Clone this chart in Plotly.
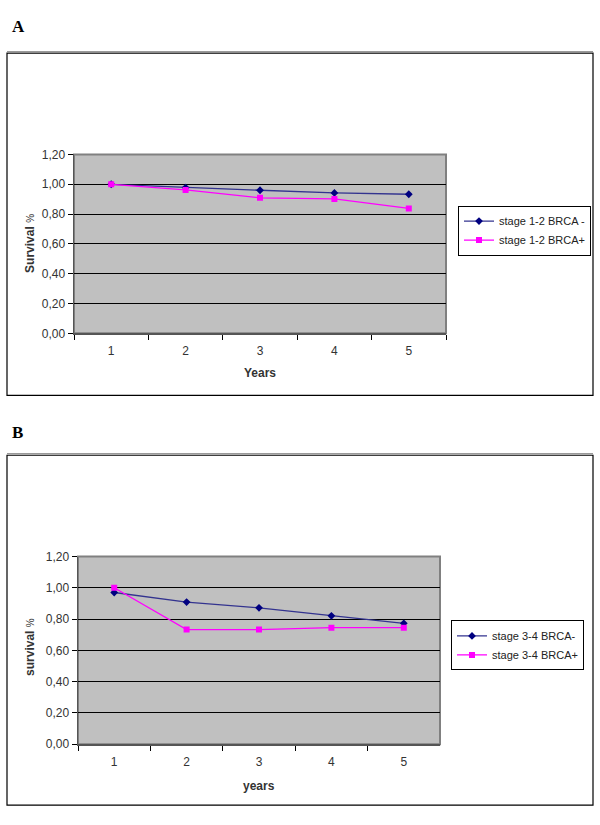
import plotly.graph_objects as go

years = ["1", "2", "3", "4", "5"]
a_neg = [1.00, 0.978, 0.96, 0.942, 0.933]
a_pos = [1.00, 0.962, 0.909, 0.902, 0.838]
b_neg = [0.97, 0.909, 0.872, 0.821, 0.773]
b_pos = [1.00, 0.733, 0.733, 0.745, 0.745]
a_names = ["stage 1-2 BRCA -", "stage 1-2 BRCA+"]
b_names = ["stage 3-4 BRCA-", "stage 3-4 BRCA+"]
yticks = [0, 0.2, 0.4, 0.6, 0.8, 1.0, 1.2]

W, H = 600, 825
def px(x): return x / W
def py(y): return 1 - y / H

NAVY = "#000080"
NAVY_LINE = "#33338F"
MAG = "#FF00FF"
FONT = "Liberation Sans, Arial, sans-serif"

fig = go.Figure()
fig.add_trace(go.Scatter(x=years, y=a_neg, name=a_names[0], mode="lines+markers",
                         line=dict(color=NAVY_LINE, width=1.3),
                         marker=dict(symbol="diamond", size=6, color=NAVY),
                         xaxis="x", yaxis="y", legend="legend"))
fig.add_trace(go.Scatter(x=years, y=a_pos, name=a_names[1], mode="lines+markers",
                         line=dict(color=MAG, width=1.3),
                         marker=dict(symbol="square", size=6, color=MAG),
                         xaxis="x", yaxis="y", legend="legend"))
fig.add_trace(go.Scatter(x=years, y=b_neg, name=b_names[0], mode="lines+markers",
                         line=dict(color=NAVY_LINE, width=1.3),
                         marker=dict(symbol="diamond", size=6, color=NAVY),
                         xaxis="x2", yaxis="y2", legend="legend2"))
fig.add_trace(go.Scatter(x=years, y=b_pos, name=b_names[1], mode="lines+markers",
                         line=dict(color=MAG, width=1.3),
                         marker=dict(symbol="square", size=6, color=MAG),
                         xaxis="x2", yaxis="y2", legend="legend2"))

def xax(dom, anchor):
    return dict(domain=dom, anchor=anchor, type="category", range=[-0.5, 4.5],
                tickson="boundaries", ticks="outside", ticklen=5, tickcolor="black",
                showgrid=False, showline=True, linecolor="#555555", linewidth=1.5,
                tickfont=dict(family=FONT, size=12, color="#333333"),
                ticklabelstandoff=6, zeroline=False, fixedrange=True)

def yax(dom, anchor):
    return dict(domain=dom, anchor=anchor, range=[0, 1.2], tickvals=yticks,
                tickformat=".2f", ticks="outside", ticklen=5, tickcolor="black",
                showgrid=True, gridcolor="black", gridwidth=1,
                showline=True, linecolor="#555555", linewidth=1.5,
                tickfont=dict(family=FONT, size=12, color="#333333"),
                zeroline=False, fixedrange=True)

A_plot = (74, 150, 446, 332)
B_plot = (78, 559, 440, 750)

fig.update_layout(
    width=W, height=H, margin=dict(l=0, r=0, t=0, b=0),
    paper_bgcolor="white", plot_bgcolor="#C0C0C0",
    separators=", ",
    xaxis=xax([px(A_plot[0]), px(A_plot[2])], "y"),
    yaxis=yax([py(A_plot[3]), py(A_plot[1])], "x"),
    xaxis2=xax([px(B_plot[0]), px(B_plot[2])], "y2"),
    yaxis2=yax([py(B_plot[3]), py(B_plot[1])], "x2"),
    legend=dict(x=px(458), y=py(202), xanchor="left", yanchor="top",
                bgcolor="white", bordercolor="black", borderwidth=1,
                font=dict(family=FONT, size=11, color="#222222"),
                tracegroupgap=0, itemwidth=30),
    legend2=dict(x=px(451), y=py(624), xanchor="left", yanchor="top",
                 bgcolor="white", bordercolor="black", borderwidth=1,
                 font=dict(family=FONT, size=11, color="#222222"),
                 tracegroupgap=0, itemwidth=30),
    showlegend=True,
)

shapes = []
for (x0, y0, x1, y1) in [(7, 47, 593, 395), (7, 456, 593, 812)]:
    shapes.append(dict(type="line", xref="paper", yref="paper",
                       x0=px(x0), x1=px(x1), y0=py(y0 - 1.5), y1=py(y0 - 1.5),
                       line=dict(color="#999999", width=1.5)))
    shapes.append(dict(type="rect", xref="paper", yref="paper",
                       x0=px(x0), x1=px(x1), y0=py(y1), y1=py(y0),
                       line=dict(color="black", width=1.2), layer="below"))
for (x0, y0, x1, y1) in [A_plot, B_plot]:
    shapes.append(dict(type="rect", xref="paper", yref="paper",
                       x0=px(x0), x1=px(x1), y0=py(y1), y1=py(y0),
                       line=dict(color="#808080", width=2), layer="below"))
fig.update_layout(shapes=shapes)

ann = [
    dict(text="<b>A</b>", x=px(10), y=py(20), xanchor="left", yanchor="middle",
         font=dict(family="Liberation Serif, Times New Roman, serif", size=17, color="black")),
    dict(text="<b>B</b>", x=px(10), y=py(433), xanchor="left", yanchor="middle",
         font=dict(family="Liberation Serif, Times New Roman, serif", size=17, color="black")),
    dict(text="<b>Years</b>", x=px(260), y=py(372), xanchor="center", yanchor="middle",
         font=dict(family=FONT, size=12, color="#333333")),
    dict(text="<b>years</b>", x=px(259), y=py(792), xanchor="center", yanchor="middle",
         font=dict(family=FONT, size=12, color="#333333")),
    dict(text="<b>Survival</b> <span style='font-size:10px'>%</span>", x=px(30), y=py(241),
         xanchor="center", yanchor="middle", textangle=-90,
         font=dict(family=FONT, size=12, color="#333333")),
    dict(text="<b>survival</b> <span style='font-size:10px'>%</span>", x=px(30), y=py(651),
         xanchor="center", yanchor="middle", textangle=-90,
         font=dict(family=FONT, size=12, color="#333333")),
]
for a in ann:
    a.update(xref="paper", yref="paper", showarrow=False)
fig.update_layout(annotations=ann)

fig.write_html("out.html",
               config={"displayModeBar": False, "staticPlot": True},
               post_script="document.body.style.margin='0';"
                           "document.documentElement.style.overflow='hidden';")
